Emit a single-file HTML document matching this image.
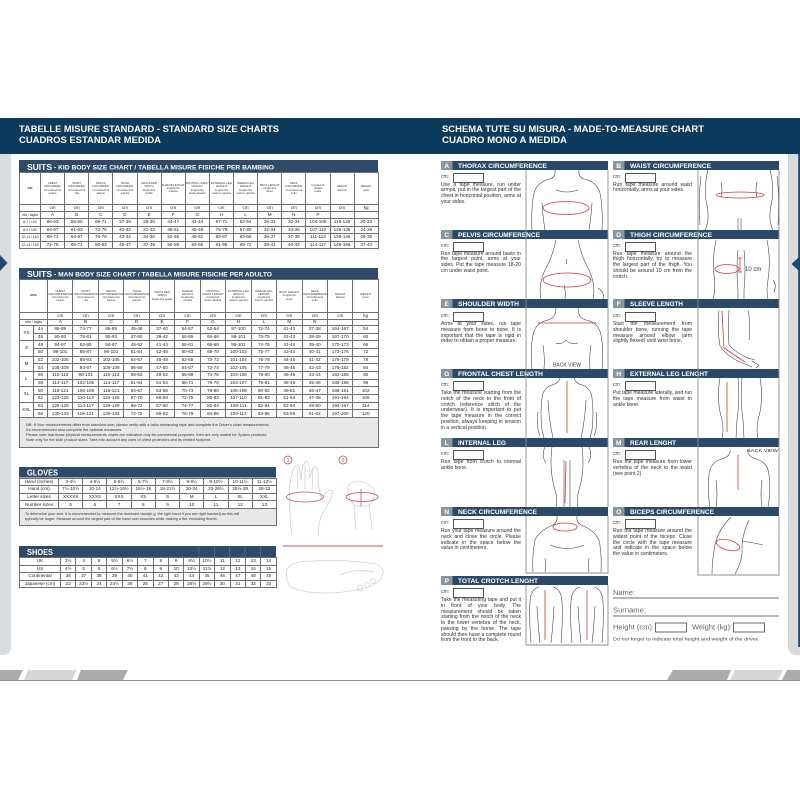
<!DOCTYPE html>
<html><head><meta charset="utf-8">
<style>
*{margin:0;padding:0;box-sizing:border-box}
html,body{width:800px;height:800px;background:#fff;overflow:hidden}
body{position:relative;font-family:"Liberation Sans",sans-serif}
svg{position:absolute;left:0;top:0}
.tb{position:absolute;border-collapse:collapse;table-layout:fixed;font-family:"Liberation Sans Narrow","Liberation Sans",sans-serif;color:#1e1e1e;text-align:center;border:1px solid #5a5a5a}
.tb td{border:0.7px solid #707070;padding:0;overflow:hidden;white-space:nowrap;font-size:4.6px;line-height:4px;vertical-align:middle}
.tb tr.h td{font-size:2.8px;line-height:3.1px;color:#333}
.tb td.k{font-size:7.5px;line-height:7px;font-weight:bold;font-family:"Liberation Sans",sans-serif;color:#333}
.tb td.s{font-size:3.4px}
.tb td.n{white-space:nowrap;text-align:left;font-size:3.9px;line-height:5px;background:#e8e8e8;padding:1px 6px;color:#333}
.lab{position:absolute;font-size:5px;color:#444;line-height:5px}
.box{position:absolute;width:31px;height:9.5px;border:0.8px solid #555;background:#fff}
.ds{position:absolute;width:80px;font-size:5.1px;line-height:5.75px;text-align:justify;color:#2e2e2e;font-family:"Liberation Sans Narrow","Liberation Sans",sans-serif}
</style></head>
<body>
<svg width="800" height="800" viewBox="0 0 800 800">
  <path d="M0 153 H11 V646 Q11 655 2 655 H0 Z" fill="#d9dcdf"/>
  <path d="M800 153 H788 V646 Q788 655 797 655 H800 Z" fill="#d9dcdf"/>
  <line x1="788.3" y1="153" x2="788.3" y2="648" stroke="#c3c7cb" stroke-width="0.6"/>
  <rect x="798.2" y="153" width="1.8" height="494" fill="#1d4a78"/>
  <rect x="0" y="118" width="800" height="36" fill="#0c3a5c"/>
  <g font-family="Liberation Sans" font-weight="bold" fill="#fff" font-size="9.6">
    <text x="19" y="132" textLength="260" lengthAdjust="spacingAndGlyphs">TABELLE MISURE STANDARD - STANDARD SIZE CHARTS</text>
    <text x="19" y="143" textLength="142" lengthAdjust="spacingAndGlyphs">CUADROS ESTANDAR MEDIDA</text>
    <text x="442" y="132" textLength="262" lengthAdjust="spacingAndGlyphs">SCHEMA TUTE SU MISURA - MADE-TO-MEASURE CHART</text>
    <text x="442" y="143" textLength="125" lengthAdjust="spacingAndGlyphs">CUADRO MONO A MEDIDA</text>
  </g>
  <path d="M0 255 L7.5 263 L0 271 Z" fill="#1f4a70"/>
  <path d="M800 256 L791.5 264 L800 272 Z" fill="#1f4a70"/>
  <line x1="0" y1="680.5" x2="800" y2="680.5" stroke="#8d8f91" stroke-width="1"/>
  <path d="M0 670 H23 L18 680 H0 Z" fill="#a9abad"/>
  <path d="M28 670 H77 L72 680 H24 Z" fill="#d6d7d8"/>
  <path d="M81 670 H128 L123 680 H77 Z" fill="#a9abad"/>
  <path d="M673 670 H731 L727 680 H667 Z" fill="#a9abad"/>
  <path d="M735 670 H783 L778 680 H730 Z" fill="#d6d7d8"/>
  <path d="M787 670 H800 V680 H782 Z" fill="#a9abad"/>

  <g fill="#2d4b69">
    <rect x="19" y="160" width="359" height="12"/>
    <rect x="19" y="268" width="359" height="11"/>
    <rect x="19" y="467" width="257" height="10.5"/>
    <rect x="19" y="546" width="257" height="11"/>
  </g>
  <g stroke="#5c7896" stroke-width="0.6">
    <line x1="198.9" y1="546" x2="198.9" y2="557"/>
    <line x1="214.3" y1="546" x2="214.3" y2="557"/>
    <line x1="229.7" y1="546" x2="229.7" y2="557"/>
    <line x1="245.1" y1="546" x2="245.1" y2="557"/>
    <line x1="260.6" y1="546" x2="260.6" y2="557"/>
  </g>
  <g font-family="Liberation Sans" font-weight="bold" fill="#fff">
    <text x="27" y="169.8" font-size="8.3" textLength="25" lengthAdjust="spacingAndGlyphs">SUITS</text>
    <text x="54" y="169.5" font-size="6.4" textLength="220" lengthAdjust="spacingAndGlyphs">- KID BODY SIZE CHART  /  TABELLA MISURE FISICHE PER BAMBINO</text>
    <text x="27" y="276.8" font-size="8.3" textLength="25" lengthAdjust="spacingAndGlyphs">SUITS</text>
    <text x="54" y="276.5" font-size="6.4" textLength="218" lengthAdjust="spacingAndGlyphs">- MAN BODY SIZE CHART / TABELLA MISURE FISICHE PER ADULTO</text>
    <text x="27" y="475.5" font-size="8" textLength="31" lengthAdjust="spacingAndGlyphs">GLOVES</text>
    <text x="27" y="555" font-size="8" textLength="26" lengthAdjust="spacingAndGlyphs">SHOES</text>
  </g>

  <g fill="none" stroke="#c4c4c4" stroke-width="0.6">
    <path d="M292 535 Q289 515 290 500 Q288 485 293 470 Q296 462 299 467 L301 480 Q302 463 306 461 Q310 462 310 478 Q312 466 316 467 Q319 470 318 484 Q320 493 322 498 Q328 488 333 491 Q330 503 322 514 Q318 525 318 536"/>
    <path d="M297 467 L298 490 M305 463 L305 490 M313 468 L312 490"/>
    <path d="M348 486 Q352 480 362 482 Q371 484 374 490 Q376 500 369 505 Q362 508 354 505 Q350 500 348 493 Z"/>
    <path d="M354 505 L356 530 M369 505 L372 530"/>
    <path d="M287 576 Q284 565 300 562 Q340 558 376 564 Q386 568 382 577 Q377 585 365 588 Q345 593 328 593 Q300 593 290 586 Q286 581 287 576 Z"/>
    <path d="M340 575 Q355 568 375 572"/>
    <circle cx="360" cy="588" r="3"/><circle cx="367" cy="585" r="2.6"/><circle cx="373" cy="581" r="2.3"/>
  </g>
  <g fill="none" stroke="#c4555e" stroke-width="0.8">
    <circle cx="288" cy="460" r="4"/>
    <circle cx="343" cy="460" r="4"/>
    <ellipse cx="305" cy="497" rx="18.5" ry="5"/>
    <ellipse cx="362" cy="497" rx="16" ry="4.5"/>
    <line x1="361" y1="489" x2="361" y2="506"/>
    <line x1="283" y1="546" x2="383" y2="546" stroke-width="1"/>
  </g>
  <g font-family="Liberation Sans" font-size="5.5" fill="#c4555e" text-anchor="middle">
    <text x="288" y="462">1</text><text x="343" y="462">2</text>
  </g>

  <g fill="#2b4a69">
    <rect x="441" y="161" width="167" height="9"/><rect x="613" y="161" width="166" height="9"/>
    <rect x="441" y="230" width="167" height="9"/><rect x="613" y="230" width="166" height="9"/>
    <rect x="441" y="299" width="167" height="9"/><rect x="613" y="299" width="166" height="9"/>
    <rect x="441" y="369" width="167" height="9"/><rect x="613" y="369" width="166" height="9"/>
    <rect x="441" y="438" width="167" height="9"/><rect x="613" y="438" width="166" height="9"/>
    <rect x="441" y="507" width="167" height="9"/><rect x="613" y="507" width="166" height="9"/>
    <rect x="441" y="576" width="167" height="9"/>
  </g>
  <g fill="#8a959e">
    <rect x="441" y="161" width="11.5" height="9"/><rect x="613" y="161" width="11.5" height="9"/>
    <rect x="441" y="230" width="11.5" height="9"/><rect x="613" y="230" width="11.5" height="9"/>
    <rect x="441" y="299" width="11.5" height="9"/><rect x="613" y="299" width="11.5" height="9"/>
    <rect x="441" y="369" width="11.5" height="9"/><rect x="613" y="369" width="11.5" height="9"/>
    <rect x="441" y="438" width="11.5" height="9"/><rect x="613" y="438" width="11.5" height="9"/>
    <rect x="441" y="507" width="11.5" height="9"/><rect x="613" y="507" width="11.5" height="9"/>
    <rect x="441" y="576" width="11.5" height="9"/>
  </g>
  <g font-family="Liberation Sans" font-weight="bold" fill="#fff" font-size="6.7">
    <text x="446.7" y="168.2" text-anchor="middle">A</text><text x="618.7" y="168.2" text-anchor="middle">B</text>
    <text x="446.7" y="237.2" text-anchor="middle">C</text><text x="618.7" y="237.2" text-anchor="middle">D</text>
    <text x="446.7" y="306.2" text-anchor="middle">E</text><text x="618.7" y="306.2" text-anchor="middle">F</text>
    <text x="446.7" y="376.2" text-anchor="middle">G</text><text x="618.7" y="376.2" text-anchor="middle">H</text>
    <text x="446.7" y="445.2" text-anchor="middle">L</text><text x="618.7" y="445.2" text-anchor="middle">M</text>
    <text x="446.7" y="514.2" text-anchor="middle">N</text><text x="618.7" y="514.2" text-anchor="middle">O</text>
    <text x="446.7" y="583.2" text-anchor="middle">P</text>
    <text x="458" y="168.2" textLength="89" lengthAdjust="spacingAndGlyphs">THORAX CIRCUMFERENCE</text>
    <text x="630" y="168.2" textLength="81" lengthAdjust="spacingAndGlyphs">WAIST CIRCUMFERENCE</text>
    <text x="458" y="237.2" textLength="82" lengthAdjust="spacingAndGlyphs">PELVIS CIRCUMFERENCE</text>
    <text x="630" y="237.2" textLength="82" lengthAdjust="spacingAndGlyphs">THIGH CIRCUMFERENCE</text>
    <text x="458" y="306.2" textLength="61" lengthAdjust="spacingAndGlyphs">SHOULDER WIDTH</text>
    <text x="630" y="306.2" textLength="53" lengthAdjust="spacingAndGlyphs">SLEEVE LENGTH</text>
    <text x="458" y="376.2" textLength="85" lengthAdjust="spacingAndGlyphs">FRONTAL CHEST LENGTH</text>
    <text x="630" y="376.2" textLength="78" lengthAdjust="spacingAndGlyphs">EXTERNAL LEG LENGHT</text>
    <text x="458" y="445.2" textLength="48" lengthAdjust="spacingAndGlyphs">INTERNAL LEG</text>
    <text x="630" y="445.2" textLength="46" lengthAdjust="spacingAndGlyphs">REAR LENGHT</text>
    <text x="458" y="514.2" textLength="79" lengthAdjust="spacingAndGlyphs">NECK CIRCUMFERENCE</text>
    <text x="630" y="514.2" textLength="84" lengthAdjust="spacingAndGlyphs">BICEPS CIRCUMFERENCE</text>
    <text x="458" y="583.2" textLength="80" lengthAdjust="spacingAndGlyphs">TOTAL CROTCH LENGHT</text>
  </g>

  <g stroke="#8c8c8c" stroke-width="0.9" fill="none">
    <line x1="526" y1="170" x2="526" y2="507"/><line x1="608" y1="170" x2="608" y2="507"/>
    <line x1="698" y1="170" x2="698" y2="507"/><line x1="779" y1="170" x2="779" y2="507"/>
    <path d="M526 516 V573 H608 V516"/>
    <path d="M698 516 V575 H779 V516"/>
    <path d="M526 585 V645 H608 V585"/>
  </g>

  <g fill="none" stroke="#3a3a3a" stroke-width="0.55">
    <path d="M555 170 Q556 177 550 179 Q537 182 534 193 Q531 208 532 230"/>
    <path d="M579 170 Q578 177 584 179 Q597 182 600 193 Q603 208 602 230"/>
    <path d="M542 203 Q543 218 545 230"/><path d="M592 203 Q591 218 589 230"/>
    <path d="M556 190 Q567 194 578 190"/>
    <path d="M708 170 Q703 190 707 205 Q710 220 705 230"/>
    <path d="M770 170 Q775 190 771 205 Q768 220 773 230"/>
    <path d="M701 176 Q698 200 700 225"/><path d="M777 176 Q780 200 778 225"/>
    <path d="M721 182 Q723 190 721 197"/><path d="M757 182 Q755 190 757 197"/>
    <path d="M738 218 L738 230 M741 218 L741 230"/>
    <path d="M556 240 Q552 258 545 270 Q538 285 541 299"/>
    <path d="M578 240 Q582 258 589 270 Q596 285 593 299"/>
    <path d="M566 259 Q567 262 566 264"/>
    <path d="M564 285 Q566 292 565 299"/>
    <path d="M598 288 Q605 293 603 299"/>
    <path d="M716 240 Q712 260 714 275 Q716 290 713 299"/>
    <path d="M738 250 Q736 270 738 290 L738 299"/>
    <path d="M744 250 Q746 270 744 290 L744 299"/>
    <path d="M767 240 Q771 260 768 280 Q766 290 768 299"/>
    <path d="M773 280 Q777 285 774 292"/>
    <path d="M556 308 Q556 318 548 320 Q535 323 533 335 Q530 350 532 369"/>
    <path d="M578 308 Q578 318 586 320 Q599 323 601 335 Q604 350 602 369"/>
    <path d="M543 345 Q545 358 544 369"/><path d="M591 345 Q589 358 590 369"/>
    <path d="M556 343 Q562 345 566 340 Q570 345 578 343"/>
    <path d="M719 310 Q717 330 720 346 Q728 358 745 364 L752 367"/>
    <path d="M729 310 Q728 330 729 345 Q736 353 748 358 L755 360"/>
    <path d="M752 361 L759 365 L756 368"/>
    <path d="M748 310 Q751 325 749 340"/>
    <path d="M560 378 Q559 383 552 385 Q543 388 542 398 Q540 412 542 430 L544 438"/>
    <path d="M574 378 Q575 383 582 385 Q591 388 592 398 Q594 412 592 430 L590 438"/>
    <path d="M548 400 Q549 420 553 438"/><path d="M586 400 Q585 420 581 438"/>
    <path d="M538 412 Q536 426 540 436"/><path d="M596 412 Q598 426 594 436"/>
    <path d="M720 378 Q716 400 722 420 Q724 430 722 438"/>
    <path d="M738 378 Q740 400 737 420 L736 438"/>
    <path d="M742 378 Q740 400 743 420 L744 438"/>
    <path d="M760 378 Q764 400 758 420 Q756 430 758 438"/>
    <path d="M552 447 Q549 470 555 490 Q558 500 556 507"/>
    <path d="M564 460 L564 507"/><path d="M570 460 L570 507"/>
    <path d="M582 447 Q585 470 579 490 Q576 500 578 507"/>
    <path d="M545 447 Q541 456 546 463"/><path d="M589 447 Q593 456 588 463"/>
    <path d="M730 450 Q731 456 722 459 Q710 462 709 475 Q707 490 710 507"/>
    <path d="M748 450 Q747 456 756 459 Q768 462 769 475 Q771 490 768 507"/>
    <path d="M716 480 Q718 495 716 507"/><path d="M762 480 Q760 495 762 507"/>
    <path d="M557 516 Q558 522 553 525 Q540 530 535 540 Q532 555 533 572"/>
    <path d="M577 516 Q576 522 581 525 Q594 530 599 540 Q602 555 601 572"/>
    <path d="M545 558 Q546 566 545 572"/><path d="M589 558 Q588 566 589 572"/>
    <path d="M550 545 Q567 552 584 545"/>
    <path d="M731 517 Q718 530 715 545 Q712 560 712 574"/>
    <path d="M749 520 Q742 535 742 548 Q743 560 735 574"/>
    <path d="M742 541 Q755 543 763 545"/>
    <path d="M539 587 Q531 589 530 601 Q529 620 531 643"/>
    <path d="M553 587 Q561 589 562 601 Q563 620 561 643"/>
    <path d="M537 606 Q538 626 540 643"/><path d="M554 606 Q553 626 551 643"/>
    <path d="M580 587 Q572 589 571 601 Q570 620 572 643"/>
    <path d="M594 587 Q602 589 603 601 Q604 620 602 643"/>
    <path d="M578 606 Q579 626 581 643"/><path d="M595 606 Q594 626 592 643"/>
  </g>
  <g fill="none" stroke="#d2393f" stroke-width="0.8">
    <ellipse cx="566" cy="208" rx="23" ry="6.5"/>
    <ellipse cx="740" cy="195" rx="24" ry="3"/>
    <ellipse cx="567" cy="280" rx="24" ry="7"/>
    <ellipse cx="727" cy="269" rx="12" ry="4.5"/>
    <path d="M738 258 H742 M740 258 V272 M738 272 H742"/>
    <line x1="538" y1="323" x2="596" y2="323"/>
    <polyline points="722,311 724,348 745,362"/>
    <line x1="567" y1="381" x2="567" y2="433"/>
    <line x1="727" y1="382" x2="727" y2="432"/>
    <line x1="566" y1="461" x2="565" y2="503"/>
    <line x1="738" y1="455" x2="738" y2="490"/>
    <ellipse cx="565" cy="527" rx="12" ry="4"/>
    <ellipse cx="728" cy="545" rx="12" ry="5" transform="rotate(15 728 545)"/>
    <line x1="545" y1="590" x2="545" y2="640"/>
    <line x1="587" y1="590" x2="587" y2="640"/>
  </g>
  <g font-family="Liberation Sans" fill="#333">
    <text x="745" y="271" font-size="6">10 cm</text>
    <text x="553" y="366.5" font-size="5" textLength="28" lengthAdjust="spacingAndGlyphs">BACK VIEW</text>
    <text x="747" y="452" font-size="4.8" textLength="31" lengthAdjust="spacingAndGlyphs">BACK VIEW</text>
  </g>

  <g font-family="Liberation Sans" fill="#666">
    <text x="613" y="595" font-size="7" textLength="22" lengthAdjust="spacingAndGlyphs">Name:</text>
    <text x="613" y="612.5" font-size="7" textLength="33" lengthAdjust="spacingAndGlyphs">Surname:</text>
    <text x="613" y="629.5" font-size="7" textLength="41" lengthAdjust="spacingAndGlyphs">Height (cm):</text>
    <text x="692" y="629.5" font-size="7" textLength="40" lengthAdjust="spacingAndGlyphs">Weight (kg):</text>
    <text x="613" y="640.5" font-size="4.5" fill="#444" textLength="146" lengthAdjust="spacingAndGlyphs">Do not forget to indicate total height and weight of the driver.</text>
  </g>
  <g stroke="#8a8a8a" stroke-width="1.2"><line x1="613" y1="598" x2="779" y2="598"/><line x1="613" y1="616" x2="779" y2="616"/></g>
  <g fill="none" stroke="#444" stroke-width="0.8"><rect x="655.5" y="623" width="31" height="9"/><rect x="733.5" y="623" width="31" height="9"/></g>
</svg>

<table class="tb" style="left:19px;top:172px;width:359px">
<colgroup><col style="width:21px"><col span="14" style="width:24.14px"></colgroup>
<tr class="h" style="height:32px"><td class="k">KID</td><td>CHEST<br>CIRCUMFER.<br>circonferenza<br>torace</td><td>WAIST<br>CIRCUMFER.<br>circonferenza<br>vita</td><td>PELVIS<br>CIRCUMFER.<br>circonferenza<br>bacino</td><td>THIGH<br>CIRCUMFER.<br>circonferenza<br>gamba</td><td>SHOULDER<br>WIDTH<br>larghezza<br>spalle</td><td>SLEEVE LENGHT<br>lunghezza<br>manica</td><td>FRONTAL CHEST<br>LENGHT<br>lunghezza<br>busto davanti</td><td>EXTERNAL LEG<br>LENGHT<br>lunghezza<br>esterno gamba</td><td>INSEAM LEG<br>LENGHT<br>lunghezza<br>interno gamba</td><td>BACK LENGHT<br>lunghezza<br>dorso</td><td>NECK<br>CIRCUMFER.<br>circonferenza<br>collo</td><td>lunghezza<br>cavallo<br>totale</td><td>HEIGHT<br>altezza</td><td>WEIGHT<br>peso</td></tr>
<tr style="height:7px"><td></td><td>cm</td><td>cm</td><td>cm</td><td>cm</td><td>cm</td><td>cm</td><td>cm</td><td>cm</td><td>cm</td><td>cm</td><td>cm</td><td>cm</td><td>cm</td><td>kg</td></tr>
<tr style="height:7px"><td class="s">età / taglia</td><td>A</td><td>B</td><td>C</td><td>D</td><td>E</td><td>F</td><td>G</td><td>H</td><td>L</td><td>M</td><td>N</td><td>P</td><td></td><td></td></tr>
<tr style="height:7.5px"><td class="s">6-7 / 120</td><td>60-63</td><td>55-60</td><td>69-71</td><td>37-39</td><td>28-30</td><td>44-47</td><td>41-44</td><td>67-71</td><td>52-54</td><td>29-31</td><td>32-34</td><td>104-106</td><td>116-125</td><td>20-23</td></tr>
<tr style="height:7.5px"><td class="s">8-9 / 130</td><td>64-67</td><td>61-63</td><td>72-75</td><td>40-42</td><td>31-33</td><td>48-51</td><td>45-48</td><td>75-79</td><td>57-60</td><td>32-34</td><td>34-36</td><td>107-110</td><td>126-135</td><td>24-28</td></tr>
<tr style="height:7.5px"><td class="s">10-11 / 140</td><td>68-71</td><td>64-67</td><td>76-79</td><td>43-44</td><td>34-36</td><td>52-55</td><td>49-52</td><td>83-87</td><td>63-66</td><td>35-37</td><td>37-39</td><td>111-113</td><td>136-145</td><td>29-36</td></tr>
<tr style="height:7.5px"><td class="s">12-13 / 150</td><td>72-75</td><td>68-71</td><td>80-83</td><td>45-47</td><td>37-39</td><td>56-59</td><td>53-56</td><td>91-95</td><td>69-72</td><td>38-41</td><td>40-42</td><td>114-117</td><td>146-155</td><td>37-44</td></tr>
</table>

<table class="tb" style="left:19px;top:279px;width:359px">
<colgroup><col style="width:14px"><col style="width:14px"><col span="13" style="width:25.46px"></colgroup>
<tr class="h" style="height:33px"><td class="k" colspan="2">MAN</td><td>CHEST<br>CIRCUMFERENCE<br>circonferenza<br>torace</td><td>WAIST<br>CIRCUMFERENCE<br>circonferenza<br>vita</td><td>PELVIS<br>CIRCUMFERENCE<br>circonferenza<br>bacino</td><td>THIGH<br>CIRCUMFERENCE<br>circonferenza<br>gamba</td><td>SHOULDER<br>WIDTH<br>larghezza spalle</td><td>SLEEVE<br>LENGHT<br>lunghezza<br>manica</td><td>FRONTAL<br>CHEST LENGHT<br>lunghezza<br>busto davanti</td><td>EXTERNAL LEG<br>LENGHT<br>lunghezza<br>esterno gamba</td><td>INSEAM LEG<br>LENGHT<br>lunghezza<br>interno gamba</td><td>BACK LENGHT<br>lunghezza<br>dorso</td><td>NECK<br>CIRCUMFERENCE<br>circonferenza<br>collo</td><td>HEIGHT<br>altezza</td><td>WEIGHT<br>peso</td></tr>
<tr style="height:6.5px"><td colspan="2"></td><td>cm</td><td>cm</td><td>cm</td><td>cm</td><td>cm</td><td>cm</td><td>cm</td><td>cm</td><td>cm</td><td>cm</td><td>cm</td><td>cm</td><td>kg</td></tr>
<tr style="height:6.5px"><td colspan="2" class="s">size / taglia</td><td>A</td><td>B</td><td>C</td><td>D</td><td>E</td><td>F</td><td>G</td><td>H</td><td>L</td><td>M</td><td>N</td><td></td><td></td></tr>
<tr style="height:7.67px"><td rowspan="2">XS</td><td>44</td><td>86-89</td><td>74-77</td><td>86-89</td><td>45-48</td><td>37-40</td><td>54-57</td><td>62-64</td><td>97-100</td><td>72-74</td><td>41-43</td><td>37-38</td><td>164-167</td><td>54</td></tr>
<tr style="height:7.67px"><td>46</td><td>90-93</td><td>78-81</td><td>90-93</td><td>47-50</td><td>39-42</td><td>56-59</td><td>64-66</td><td>98-101</td><td>73-75</td><td>42-43</td><td>38-39</td><td>167-170</td><td>60</td></tr>
<tr style="height:7.67px"><td rowspan="2">S</td><td>48</td><td>94-97</td><td>82-85</td><td>94-97</td><td>49-52</td><td>41-44</td><td>58-61</td><td>66-68</td><td>99-102</td><td>74-76</td><td>42-44</td><td>39-40</td><td>170-173</td><td>66</td></tr>
<tr style="height:7.67px"><td>50</td><td>98-101</td><td>86-87</td><td>98-101</td><td>51-54</td><td>42-46</td><td>60-63</td><td>68-70</td><td>100-103</td><td>75-77</td><td>43-44</td><td>40-41</td><td>173-176</td><td>72</td></tr>
<tr style="height:7.67px"><td rowspan="2">M</td><td>52</td><td>102-105</td><td>88-93</td><td>102-105</td><td>54-57</td><td>45-48</td><td>62-65</td><td>70-72</td><td>101-104</td><td>76-78</td><td>44-45</td><td>41-42</td><td>176-179</td><td>78</td></tr>
<tr style="height:7.67px"><td>54</td><td>106-109</td><td>94-97</td><td>106-109</td><td>56-59</td><td>47-50</td><td>64-67</td><td>72-74</td><td>102-105</td><td>77-79</td><td>45-46</td><td>42-43</td><td>179-182</td><td>84</td></tr>
<tr style="height:7.67px"><td rowspan="2">L</td><td>56</td><td>110-113</td><td>98-101</td><td>110-113</td><td>59-62</td><td>49-52</td><td>66-69</td><td>74-76</td><td>103-106</td><td>78-80</td><td>46-48</td><td>43-44</td><td>182-185</td><td>90</td></tr>
<tr style="height:7.67px"><td>58</td><td>114-117</td><td>102-105</td><td>114-117</td><td>61-64</td><td>51-54</td><td>68-71</td><td>76-78</td><td>103-107</td><td>79-81</td><td>48-49</td><td>45-46</td><td>185-188</td><td>96</td></tr>
<tr style="height:7.67px"><td rowspan="2">XL</td><td>60</td><td>118-121</td><td>106-109</td><td>118-121</td><td>64-67</td><td>53-56</td><td>70-73</td><td>78-80</td><td>105-108</td><td>80-82</td><td>49-51</td><td>46-47</td><td>188-191</td><td>102</td></tr>
<tr style="height:7.67px"><td>62</td><td>122-125</td><td>110-113</td><td>122-125</td><td>67-70</td><td>56-58</td><td>72-75</td><td>80-82</td><td>107-110</td><td>81-83</td><td>51-52</td><td>47-48</td><td>191-194</td><td>108</td></tr>
<tr style="height:7.67px"><td rowspan="2">XXL</td><td>64</td><td>126-129</td><td>114-117</td><td>126-129</td><td>69-72</td><td>57-60</td><td>74-77</td><td>82-84</td><td>108-111</td><td>82-84</td><td>52-54</td><td>49-50</td><td>194-197</td><td>114</td></tr>
<tr style="height:7.67px"><td>66</td><td>130-133</td><td>118-121</td><td>130-133</td><td>72-75</td><td>59-62</td><td>76-79</td><td>84-86</td><td>109-112</td><td>83-85</td><td>53-55</td><td>51-52</td><td>197-200</td><td>120</td></tr>
<tr style="height:30px"><td class="n" colspan="15">NB: If Your measurements differ from standard size, please verify with a tailor measuring tape and complete the Driver's chart measurements;<br>It's recommended also complete the optional measures.<br>Please note that these physical measurements charts are indicative only for commercial purposes, then are only usefull for Sparco products.<br>Note only for the kids' product sizes: Take into account any uses of chest protectors and its related footprint.</td></tr>
</table>

<table class="tb" style="left:19px;top:477.5px;width:257px">
<colgroup><col style="width:39px"><col span="9" style="width:24.22px"></colgroup>
<tr style="height:7.6px"><td>Hand (inches)</td><td>3-4½</td><td>4-5½</td><td>5-6½</td><td>6-7½</td><td>7-8½</td><td>8-9½</td><td>9-10½</td><td>10-11½</td><td>11-12½</td></tr>
<tr style="height:7.6px"><td>Hand (cm)</td><td>7½-10½</td><td>10-14</td><td>12½-16½</td><td>16½-19</td><td>18-21½</td><td>20-24</td><td>23-26½</td><td>25½-29</td><td>28-32</td></tr>
<tr style="height:7.6px"><td>Letter sizes</td><td>XXXXS</td><td>XXXS</td><td>XXS</td><td>XS</td><td>S</td><td>M</td><td>L</td><td>XL</td><td>XXL</td></tr>
<tr style="height:7.6px"><td>Number sizes</td><td>5</td><td>6</td><td>7</td><td>8</td><td>9</td><td>10</td><td>11</td><td>12</td><td>13</td></tr>
<tr style="height:17px"><td class="n" colspan="10" style="font-size:3.8px;padding:1px 5px">To determine your size, it is recommended to measure the dominant hand(e.g. the right hand if you are right handed) as this will<br>typically be larger. Measure around the largest part of the hand over knuckles while making a fist, excluding thumb.</td></tr>
</table>

<table class="tb" style="left:19px;top:557px;width:257px">
<colgroup><col style="width:41px"><col span="14" style="width:15.43px"></colgroup>
<tr style="height:7.5px"><td>UK</td><td>3½</td><td>4</td><td>5</td><td>5½</td><td>6½</td><td>7</td><td>8</td><td>9</td><td>9½</td><td>10½</td><td>11</td><td>12</td><td>13</td><td>14</td></tr>
<tr style="height:7.5px"><td>US</td><td>4½</td><td>5</td><td>6</td><td>6½</td><td>7½</td><td>8</td><td>9</td><td>10</td><td>10½</td><td>11½</td><td>12</td><td>13</td><td>14</td><td>15</td></tr>
<tr style="height:7.5px"><td>Continental</td><td>36</td><td>37</td><td>38</td><td>39</td><td>40</td><td>41</td><td>42</td><td>43</td><td>44</td><td>45</td><td>46</td><td>47</td><td>48</td><td>49</td></tr>
<tr style="height:7.5px"><td>Japanese (cm)</td><td>23</td><td>23½</td><td>24</td><td>24½</td><td>25</td><td>26</td><td>27</td><td>28</td><td>28½</td><td>29½</td><td>30</td><td>31</td><td>32</td><td>33</td></tr>
</table>

<div class="lab" style="left:441px;top:175px">cm:</div><div class="box" style="left:453px;top:173px"></div>
<div class="ds" style="left:441px;top:182.5px">Use a tape measure, run under armpit, put in the largest part of the chest in horizontal position, arms at your sides.</div>
<div class="lab" style="left:613px;top:175px">cm:</div><div class="box" style="left:625px;top:173px"></div>
<div class="ds" style="left:613px;top:182.5px;width:79px">Run tape measure around waist horizontally, arms at your sides.</div>

<div class="lab" style="left:441px;top:244px">cm:</div><div class="box" style="left:453px;top:242px"></div>
<div class="ds" style="left:441px;top:251.5px">Run tape measure around basin in the largest point, arms at your sides. Put the tape measure 18-20 cm under waist point.</div>
<div class="lab" style="left:613px;top:244px">cm:</div><div class="box" style="left:625px;top:242px"></div>
<div class="ds" style="left:613px;top:251.5px;width:79px">Run tape measure around the thigh horizontally, try to measure the largest part of the thigh. You should be around 10 cm from the crotch.</div>

<div class="lab" style="left:441px;top:314px">cm:</div><div class="box" style="left:453px;top:312px"></div>
<div class="ds" style="left:441px;top:322px">Arms at your sides, run tape measure from bone to bone. It is important that the tape is rigid in order to obtain a proper measure.</div>
<div class="lab" style="left:613px;top:314px">cm:</div><div class="box" style="left:625px;top:312px"></div>
<div class="ds" style="left:613px;top:322px;width:79px">Start the measurement from shoulder bone, running the tape measure around elbow (arm slightly flexed) until wrist bone.</div>

<div class="lab" style="left:441px;top:383px">cm:</div><div class="box" style="left:453px;top:381px"></div>
<div class="ds" style="left:441px;top:391px">Take the measure starting from the notch of the neck to the front of crotch (reference stitch of the underwear). It is important to put the tape measure in the correct position, always keeping in tension in a vertical position.</div>
<div class="lab" style="left:613px;top:383px">cm:</div><div class="box" style="left:625px;top:381px"></div>
<div class="ds" style="left:613px;top:391px;width:79px">Put tape measure laterally, and run the tape measure from waist to ankle bone.</div>

<div class="lab" style="left:441px;top:452px">cm:</div><div class="box" style="left:453px;top:450px"></div>
<div class="ds" style="left:441px;top:460px">Run tape from crotch to internal ankle bone.</div>
<div class="lab" style="left:613px;top:452px">cm:</div><div class="box" style="left:625px;top:450px"></div>
<div class="ds" style="left:613px;top:460px;width:79px">Run the tape measure from lower vertebra of the neck to the waist (see point 2).</div>

<div class="lab" style="left:441px;top:521px">cm:</div><div class="box" style="left:453px;top:519px"></div>
<div class="ds" style="left:441px;top:529px">Run your tape measure around the neck and close the circle. Please indicate in the space below the value in centimeters.</div>
<div class="lab" style="left:613px;top:521px">cm:</div><div class="box" style="left:625px;top:519px"></div>
<div class="ds" style="left:613px;top:529px;width:79px">Run the tape measure around the widest point of the biceps. Close the circle with the tape measure and indicate in the space below the value in centimeters.</div>

<div class="lab" style="left:441px;top:590px">cm:</div><div class="box" style="left:453px;top:588px"></div>
<div class="ds" style="left:441px;top:598px">Take the measuring tape and put it in front of your body. The measurement should be taken starting from the notch of the neck to the lower vertebra of the neck, passing by the horse. The tape should then have a complete round from the front to the back.</div>
</body></html>
